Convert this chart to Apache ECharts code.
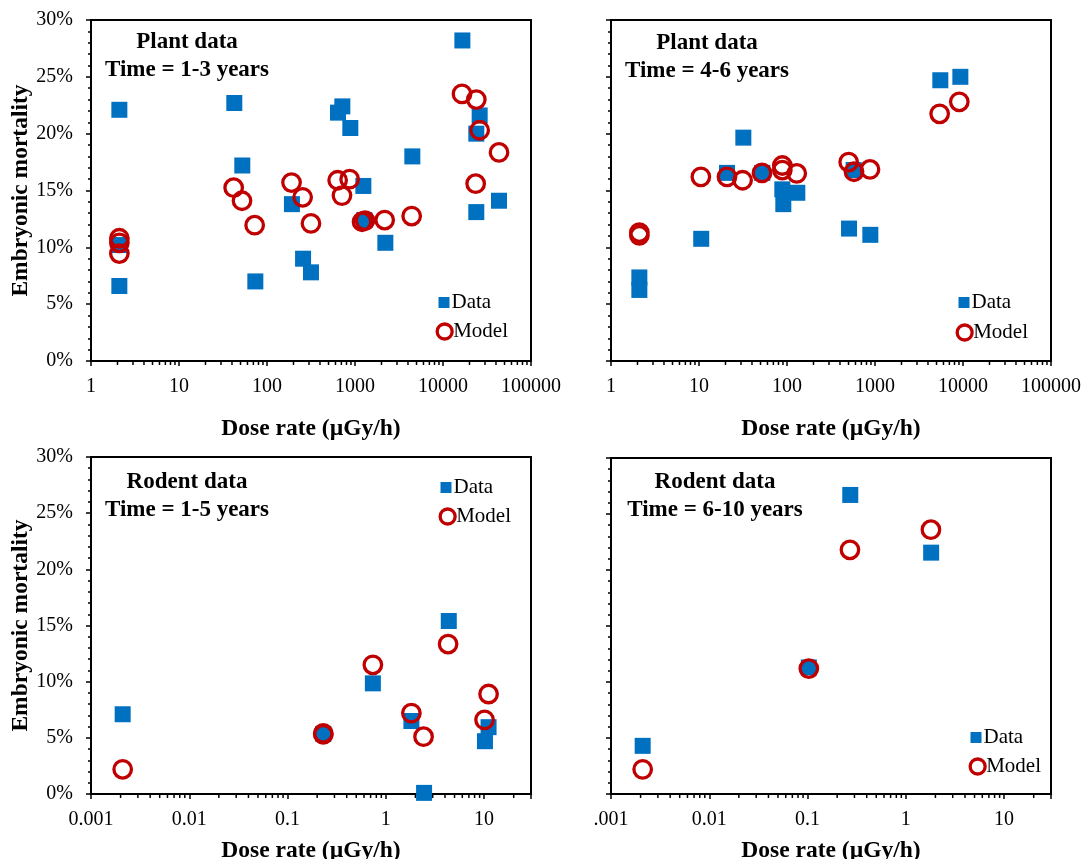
<!DOCTYPE html>
<html>
<head>
<meta charset="utf-8">
<script src="https://cdn.jsdelivr.net/npm/echarts@6.0.0/dist/echarts.min.js"></script>
<style>
html,body{margin:0;padding:0;background:#fff;}
#chart{width:1082px;height:859px;}
</style>
</head>
<body>
<div id="chart"></div>
<script>
// ---- Panel A: Plant data, Time = 1-3 years ----
const plantA_dataX  = [2.1, 2.1, 2.1, 42.5, 52.4, 73.7, 192, 257, 316, 641, 718, 885, 1244, 1277, 2213, 4483, 16600, 26100, 23900, 23900, 43300];
const plantA_dataY  = [22.1, 6.6, 10.2, 22.7, 17.2, 7.0, 13.8, 9.0, 7.8, 21.85, 22.4, 20.5, 15.4, 12.4, 10.4, 18.0, 28.2, 21.6, 20.0, 13.1, 14.1];
const plantA_modelX = [2.1, 2.1, 2.1, 41.8, 52, 72.4, 190, 254, 316, 635, 711, 869, 1202, 1300, 2173, 4405, 16440, 23900, 26100, 23500, 43300];
const plantA_modelY = [10.8, 10.4, 9.45, 15.25, 14.1, 11.95, 15.7, 14.4, 12.1, 15.9, 14.55, 16.0, 12.25, 12.35, 12.4, 12.75, 23.5, 23.0, 20.3, 15.6, 18.35];

// ---- Panel B: Plant data, Time = 4-6 years ----
const plantB_dataX  = [2.1, 2.1, 10.6, 20.8, 31.9, 52.4, 88.5, 90.8, 131, 507, 572, 885, 5525, 9330];
const plantB_dataY  = [7.35, 6.25, 10.75, 16.55, 19.65, 16.55, 15.1, 13.8, 14.8, 11.65, 16.8, 11.1, 24.7, 25.0];
const plantB_modelX = [2.1, 2.1, 10.5, 20.8, 31.3, 52, 88.5, 88.5, 129, 502, 577, 877, 5430, 9080];
const plantB_modelY = [11.3, 11.05, 16.2, 16.2, 15.9, 16.55, 17.2, 16.8, 16.5, 17.5, 16.65, 16.85, 21.75, 22.8];

// ---- Panel C: Rodent data, Time = 1-5 years ----
const rodentC_dataX  = [0.0021, 0.231, 0.738, 1.82, 2.45, 4.37, 11.1, 10.2];
const rodentC_dataY  = [7.1, 5.35, 9.85, 6.5, 0.1, 15.4, 5.95, 4.7];
const rodentC_modelX = [0.0021, 0.231, 0.231, 0.738, 1.82, 2.42, 4.3, 11.1, 10.1];
const rodentC_modelY = [2.2, 5.4, 5.3, 11.5, 7.2, 5.1, 13.35, 8.9, 6.6];

// ---- Panel D: Rodent data, Time = 6-10 years ----
const rodentD_dataX  = [0.0021, 0.103, 0.272, 1.81];
const rodentD_dataY  = [4.3, 11.3, 26.7, 21.55];
const rodentD_modelX = [0.0021, 0.103, 0.27, 1.80];
const rodentD_modelY = [2.2, 11.2, 21.8, 23.6];

// ---- Tick labels ----
const plantXLabels   = ['1', '10', '100', '1000', '10000', '100000'];   // decades 0..5
const rodentXLabels  = ['0.001', '0.01', '0.1', '1', '10'];           // decades -3..1
const rodentXLabelsD = ['.001', '0.01', '0.1', '1', '10'];
const yTickLabels    = ['0%', '5%', '10%', '15%', '20%', '25%', '30%'];

// ---- Panel texts ----
const panelTitles = [
  ['Plant data', 'Time = 1-3 years'],
  ['Plant data', 'Time = 4-6 years'],
  ['Rodent data', 'Time = 1-5 years'],
  ['Rodent data', 'Time = 6-10 years']
];
const minorMultipliers = [2, 3, 4, 5, 6, 7, 8, 9];

const FONT = '"Liberation Serif", "Times New Roman", serif';
const BLUE = '#0070C0';
const RED = '#C00000';

const grids = [
  {left: 91, top: 20, width: 440, height: 341},
  {left: 611, top: 20, width: 440, height: 341},
  {left: 91, top: 457, width: 440, height: 337},
  {left: 611, top: 458, width: 440, height: 336}
];
const xMax = [100000, 100000, 30, 30];

function zip(xs, ys) { return xs.map((x, i) => [x, ys[i]]); }

function decadeFormatter(labels, firstExp) {
  return function (v) {
    const e = Math.log10(v);
    const r = Math.round(e);
    if (Math.abs(e - r) > 1e-6) return '';
    const s = labels[r - firstExp];
    return s === undefined ? '' : s;
  };
}

function xAxis(idx, min, max, labels, firstExp, nameGap) {
  return {
    type: 'log', logBase: 10, gridIndex: idx, min: min, max: max,
    name: 'Dose rate (µGy/h)', nameLocation: 'middle', nameGap: nameGap,
    nameTextStyle: {fontFamily: FONT, fontWeight: 'bold', fontSize: 23.5, color: '#000'},
    axisLine: {show: true, lineStyle: {color: '#000', width: 2}},
    axisTick: {show: true, length: 5, lineStyle: {color: '#000', width: 1.5}},
    axisLabel: {show: true, margin: 16, fontFamily: FONT, fontSize: 20, color: '#000',
      formatter: decadeFormatter(labels, firstExp), showMinLabel: true, showMaxLabel: true},
    splitLine: {show: false},
    minorTick: {show: false}
  };
}

function yAxis(idx, showLabel) {
  return {
    type: 'value', gridIndex: idx, min: 0, max: 30, interval: 5,
    name: showLabel ? 'Embryonic mortality' : '', nameLocation: 'middle', nameGap: 58,
    nameTextStyle: {fontFamily: FONT, fontWeight: 'bold', fontSize: 23.5, color: '#000'},
    axisLine: {show: true, lineStyle: {color: '#000', width: 2}},
    axisTick: {show: true, length: 5, lineStyle: {color: '#000', width: 1.5}},
    minorTick: {show: true, splitNumber: 5, length: 3, lineStyle: {color: '#000', width: 1.5}},
    axisLabel: {show: showLabel, margin: 18, fontFamily: FONT, fontSize: 20, color: '#000',
      padding: [4, 0, 0, 0],
      formatter: function (v) { return yTickLabels[Math.round(v / 5)]; }},
    splitLine: {show: false}
  };
}

function minorTicks(idx, decades) {
  const vals = [];
  decades.forEach(d => minorMultipliers.forEach(m => {
    if (m * d < xMax[idx]) vals.push([m * d, 0]);
  }));
  return {
    type: 'custom', xAxisIndex: idx, yAxisIndex: idx, silent: true, clip: false, z: 1,
    data: vals,
    renderItem: function (params, api) {
      const p = api.coord([api.value(0), 0]);
      return {type: 'line', shape: {x1: p[0], y1: p[1], x2: p[0], y2: p[1] + 4},
        style: {stroke: '#000', lineWidth: 1.5}};
    }
  };
}

function dataSeries(idx, pts) {
  return {type: 'scatter', name: 'Data', xAxisIndex: idx, yAxisIndex: idx, data: pts,
    symbol: 'rect', symbolSize: 16, itemStyle: {color: BLUE, opacity: 1}, z: 3, silent: true};
}
function modelSeries(idx, pts) {
  return {type: 'scatter', name: 'Model', xAxisIndex: idx, yAxisIndex: idx, data: pts,
    symbol: 'circle', symbolSize: 17.5,
    itemStyle: {color: 'rgba(255,255,255,0)', borderColor: RED, borderWidth: 3.3, opacity: 1}, z: 4, silent: true};
}

// legend entry: one legend component per item so that each icon has its own size
function legendData(cx, cy) {
  return {
    left: cx - 5.5, top: cy - 10, padding: 0, orient: 'vertical', itemWidth: 11, itemHeight: 11,
    selectedMode: false,
    textStyle: {fontFamily: FONT, fontSize: 21, color: '#000', lineHeight: 20, padding: [0, 0, 0, -3]},
    data: [{name: 'Data', icon: 'rect', itemStyle: {color: BLUE, borderWidth: 0, opacity: 1}}]
  };
}
function legendModel(cx, cy) {
  return {
    left: cx - 7.5, top: cy - 10, padding: 0, orient: 'vertical', itemWidth: 15, itemHeight: 15,
    selectedMode: false,
    textStyle: {fontFamily: FONT, fontSize: 21, color: '#000', lineHeight: 20, padding: [0, 0, 0, -4]},
    data: [{name: 'Model', icon: 'circle',
      itemStyle: {color: 'rgba(255,255,255,0)', borderColor: RED, borderWidth: 3.3, opacity: 1}}]
  };
}

const legendPos = [
  [[444, 302], [443, 331]],
  [[964, 302], [963, 332]],
  [[446, 487], [446, 516]],
  [[976, 737], [976, 766]]
];
const legends = [];
legendPos.forEach(p => { legends.push(legendData(p[0][0], p[0][1])); legends.push(legendModel(p[1][0], p[1][1])); });

const titlePos = [[187, 42], [707, 43], [187, 482], [715, 482]];
const graphics = [];
panelTitles.forEach((t, i) => {
  graphics.push({type: 'text', x: titlePos[i][0], y: titlePos[i][1], z: 10,
    style: {text: t[0], fontFamily: FONT, fontWeight: 'bold', fontSize: 23, fill: '#000',
      textAlign: 'center', textVerticalAlign: 'middle'}});
  graphics.push({type: 'text', x: titlePos[i][0], y: titlePos[i][1] + 28, z: 10,
    style: {text: t[1], fontFamily: FONT, fontWeight: 'bold', fontSize: 23, fill: '#000',
      textAlign: 'center', textVerticalAlign: 'middle'}});
});

const option = {
  animation: false,
  backgroundColor: '#fff',
  grid: grids.map(g => Object.assign({show: true, borderColor: '#000', borderWidth: 2,
    backgroundColor: 'transparent', containLabel: false, outerBoundsMode: 'none'}, g)),
  xAxis: [
    xAxis(0, 1, 100000, plantXLabels, 0, 56),
    xAxis(1, 1, 100000, plantXLabels, 0, 56),
    xAxis(2, 0.001, 30, rodentXLabels, -3, 45),
    xAxis(3, 0.001, 30, rodentXLabelsD, -3, 45)
  ],
  yAxis: [yAxis(0, true), yAxis(1, false), yAxis(2, true), yAxis(3, false)],
  legend: legends,
  graphic: graphics,
  series: [
    minorTicks(0, [1, 10, 100, 1000, 10000]),
    minorTicks(1, [1, 10, 100, 1000, 10000]),
    minorTicks(2, [0.001, 0.01, 0.1, 1, 10]),
    minorTicks(3, [0.001, 0.01, 0.1, 1, 10]),
    dataSeries(0, zip(plantA_dataX, plantA_dataY)),
    modelSeries(0, zip(plantA_modelX, plantA_modelY)),
    dataSeries(1, zip(plantB_dataX, plantB_dataY)),
    modelSeries(1, zip(plantB_modelX, plantB_modelY)),
    dataSeries(2, zip(rodentC_dataX, rodentC_dataY)),
    modelSeries(2, zip(rodentC_modelX, rodentC_modelY)),
    dataSeries(3, zip(rodentD_dataX, rodentD_dataY)),
    modelSeries(3, zip(rodentD_modelX, rodentD_modelY))
  ]
};

const chart = echarts.init(document.getElementById('chart'), null, {renderer: 'canvas'});
chart.setOption(option);
</script>
</body>
</html>
